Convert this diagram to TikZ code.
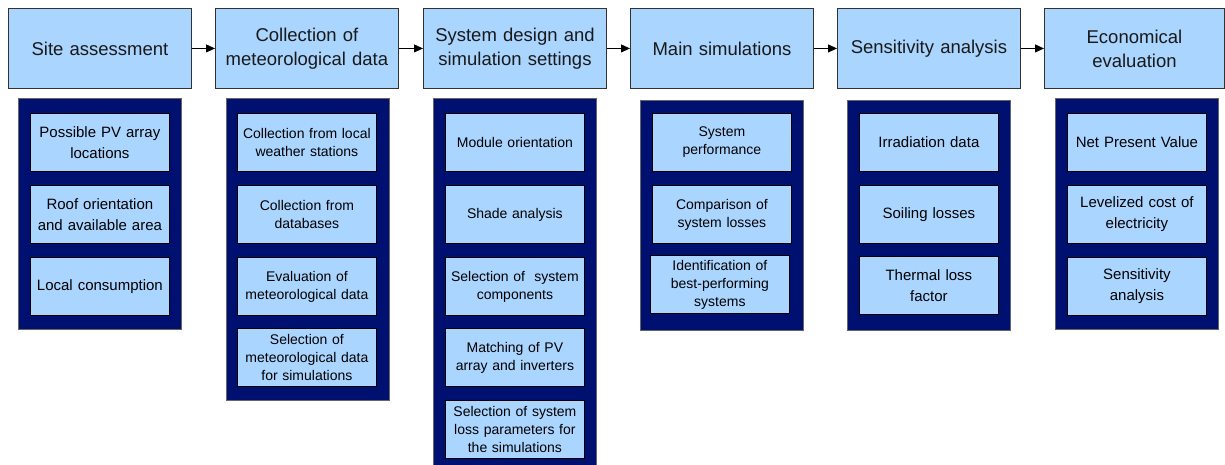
\documentclass[tikz,border=0pt]{standalone}
\usepackage{fontspec}
\setmainfont{Liberation Sans}
\usetikzlibrary{arrows.meta}
\definecolor{hblue}{RGB}{170,213,255}
\definecolor{navy}{RGB}{0,16,112}
\definecolor{edge}{RGB}{50,50,50}
\tikzset{
  head/.style={draw=edge, line width=0.9pt, fill=hblue, anchor=north west,
    minimum width=183pt, minimum height=80pt, inner sep=0pt, align=center,
    text width=178pt, font=\fontsize{18.5}{24}\selectfont, text=black!90},
  cont/.style={draw=black!60, line width=0.6pt, fill=navy, anchor=north west,
    minimum width=163pt, inner sep=0pt},
  sub/.style={draw=black, line width=0.8pt, fill=hblue, anchor=north west,
    minimum width=139pt, minimum height=58pt, inner sep=0pt, align=center,
    text width=136pt},
  big/.style={font=\fontsize{15}{21}\selectfont},
  small/.style={font=\fontsize{14}{18}\selectfont},
  flow/.style={line width=0.9pt, -{Triangle[length=9pt,width=8pt]}}
}
\begin{document}
\begin{tikzpicture}[x=1pt,y=-1pt]
\useasboundingbox (0,0) rectangle (1225,465);
% headers
\node[head] (h1) at (8,8) {Site assessment};
\node[head] (h2) at (215,8) {Collection of\\meteorological data};
\node[head] (h3) at (423,8) {System design and\\simulation settings};
\node[head] (h4) at (630,8) {Main simulations};
\node[head] (h5) at (837,8) {Sensitivity analysis};
\node[head, minimum width=180pt] (h6) at (1044,8) {Economical\\evaluation};
\draw[flow] (h1) -- (h2);
\draw[flow] (h2) -- (h3);
\draw[flow] (h3) -- (h4);
\draw[flow] (h4) -- (h5);
\draw[flow] (h5) -- (h6);
% column 1
\node[cont, minimum height=231pt] (c1) at (18,98) {};
\node[sub,big] (a1) at (30,113) {Possible PV array\\locations};
\node[sub,big] (a2) at (30,185) {Roof orientation\\and available area};
\node[sub,big] (a3) at (30,257) {Local consumption};
% column 2
\node[cont, minimum height=302pt] (c2) at (226,98) {};
\node[sub,small] (b1) at (237,113) {Collection from local\\weather stations};
\node[sub,small] (b2) at (237,185) {Collection from\\databases};
\node[sub,small] (b3) at (237,257) {Evaluation of\\meteorological data};
\node[sub,small] (b4) at (237,328) {Selection of\\meteorological data\\for simulations};
% column 3
\node[cont, minimum height=367pt] (c3) at (433,98) {};
\node[sub,small] (d1) at (445,113) {Module orientation};
\node[sub,small] (d2) at (445,185) {Shade analysis};
\node[sub,small] (d3) at (445,257) {Selection of\ \ system\\components};
\node[sub,small] (d4) at (445,328) {Matching of PV\\array and inverters};
\node[sub,small] (d5) at (445,400) {Selection of system\\loss parameters for\\the simulations};
% column 4
\node[cont, minimum height=230pt] (c4) at (640,100) {};
\node[sub,small] (e1) at (652,113) {System\\performance};
\node[sub,small] (e2) at (652,185) {Comparison of\\system losses};
\node[sub,small] (e3) at (650,255) {Identification of\\best-performing\\systems};
% column 5
\node[cont, minimum height=230pt] (c5) at (847,100) {};
\node[sub,big] (f1) at (859,113) {Irradiation data};
\node[sub,big] (f2) at (859,185) {Soiling losses};
\node[sub,big] (f3) at (859,256) {Thermal loss\\factor};
% column 6
\node[cont, minimum height=231pt] (c6) at (1055,98) {};
\node[sub,big] (g1) at (1067,113) {Net Present Value};
\node[sub,big] (g2) at (1067,185) {Levelized cost of\\electricity};
\node[sub,big] (g3) at (1067,257) {Sensitivity\\analysis};
\end{tikzpicture}
\end{document}
